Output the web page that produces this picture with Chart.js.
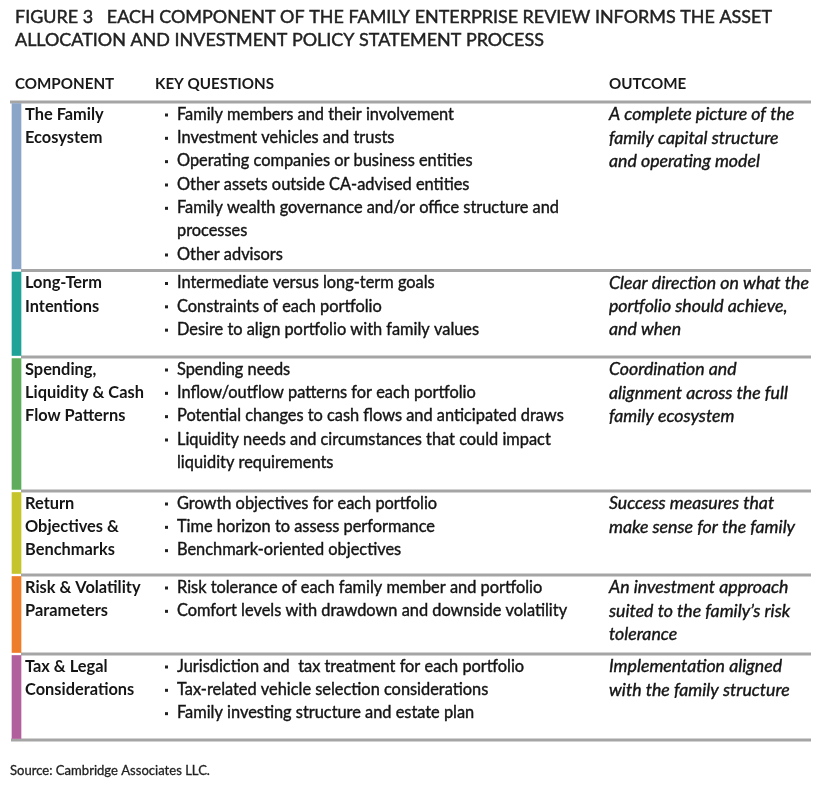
<!DOCTYPE html>
<html>
<head>
<meta charset="utf-8">
<script src="https://cdn.jsdelivr.net/npm/chart.js@4.4.1/dist/chart.umd.min.js"></script>
<style>
  html, body { margin: 0; padding: 0; background: #fff; }
  #wrap { width: 826px; height: 786px; }
</style>
</head>
<body>
<div id="wrap"><canvas id="myChart" width="826" height="786"></canvas></div>
<script>
// ---- content ----
var titleLines = [
	"FIGURE 3   EACH COMPONENT OF THE FAMILY ENTERPRISE REVIEW INFORMS THE ASSET",
	"ALLOCATION AND INVESTMENT POLICY STATEMENT PROCESS"
];
var headers = ["COMPONENT", "KEY QUESTIONS", "OUTCOME"];
var components = [
	["The Family", "Ecosystem"],
	["Long-Term", "Intentions"],
	["Spending,", "Liquidity & Cash", "Flow Patterns"],
	["Return", "Objectives &", "Benchmarks"],
	["Risk & Volatility", "Parameters"],
	["Tax & Legal", "Considerations"]
];
var questions = [
	["Family members and their involvement", "Investment vehicles and trusts", "Operating companies or business entities",
	 "Other assets outside CA-advised entities", ["Family wealth governance and/or office structure and", "processes"], "Other advisors"],
	["Intermediate versus long-term goals", "Constraints of each portfolio", "Desire to align portfolio with family values"],
	["Spending needs", "Inflow/outflow patterns for each portfolio", "Potential changes to cash flows and anticipated draws",
	 ["Liquidity needs and circumstances that could impact", "liquidity requirements"]],
	["Growth objectives for each portfolio", "Time horizon to assess performance", "Benchmark-oriented objectives"],
	["Risk tolerance of each family member and portfolio", "Comfort levels with drawdown and downside volatility"],
	["Jurisdiction and  tax treatment for each portfolio", "Tax-related vehicle selection considerations", "Family investing structure and estate plan"]
];
var outcomes = [
	["A complete picture of the", "family capital structure", "and operating model"],
	["Clear direction on what the", "portfolio should achieve,", "and when"],
	["Coordination and", "alignment across the full", "family ecosystem"],
	["Success measures that", "make sense for the family"],
	["An investment approach", "suited to the family\u2019s risk", "tolerance"],
	["Implementation aligned", "with the family structure"]
];
var rowColors = ["#8aa5c8", "#1fa398", "#5eac5c", "#c6c42c", "#ee7d2b", "#b25f9d"];
var sourceText = "Source: Cambridge Associates LLC.";

// ---- layout (px) ----
var W = 826, H = 786;
var rowEdges = [102, 270.5, 357, 491, 575, 654, 740];
var stripeX = 16.5, stripeW = 9;
var colX = [25, 177, 609];
var headerX = [15, 155, 609];
var lineH = 23.33, firstLine = 12.5;
var FONT = "Lato, 'Open Sans', sans-serif";

var ctxM = document.createElement("canvas").getContext("2d");
function fitSize(text, weight, style, target) {
	ctxM.font = style + " " + weight + " 100px " + FONT;
	return 100 * target / ctxM.measureText(text).width;
}
var fs = {
	title: fitSize(titleLines[0], "normal", "normal", 757),
	header: fitSize("KEY QUESTIONS", "bold", "normal", 119),
	comp: fitSize("Liquidity & Cash", "bold", "normal", 119),
	body: fitSize("Comfort levels with drawdown and downside volatility", "normal", "normal", 390),
	outc: fitSize("alignment across the full", "normal", "italic", 179),
	src: fitSize(sourceText, "normal", "normal", 200)
};

var stripes = components.map(function (c, i) {
	return { x: stripeX, y: [rowEdges[i] + 1.5, rowEdges[i + 1] - 1.5] };
});
var seps = [];
rowEdges.forEach(function (e, i) {
	var x0 = (i === 0) ? 10 : (i === rowEdges.length - 1 ? 11 : 21);
	seps.push({ x: x0, y: e }, { x: 811, y: e }, { x: 811, y: null });
});

var textPlugin = {
	id: "tableText",
	afterDatasetsDraw: function (chart) {
		var c = chart.ctx, sx = chart.scales.x, sy = chart.scales.y;
		// heavy: extra stroke to thicken thin faces
		function put(t, x, y, font, color, heavy) {
			var px = sx.getPixelForValue(x), py = sy.getPixelForValue(y);
			c.font = font;
			c.fillStyle = color;
			c.fillText(t, px, py);
			if (heavy) {
				c.strokeStyle = color;
				c.lineWidth = heavy;
				c.strokeText(t, px, py);
			}
		}
		c.save();
		c.textBaseline = "middle";
		c.textAlign = "left";
		titleLines.forEach(function (t, i) {
			put(t, 15, 17 + i * 23, fs.title.toFixed(2) + "px " + FONT, "#222", 0.45);
		});
		headers.forEach(function (t, i) {
			put(t, headerX[i], 84, "bold " + fs.header.toFixed(2) + "px " + FONT, "#1a1a1a", 0);
		});
		for (var r = 0; r < components.length; r++) {
			var y0 = rowEdges[r] + firstLine;
			components[r].forEach(function (t, i) {
				put(t, colX[0], y0 + i * lineH, "bold " + fs.comp.toFixed(2) + "px " + FONT, "#151515", 0);
			});
			var ln = 0;
			questions[r].forEach(function (q) {
				var parts = Array.isArray(q) ? q : [q];
				c.fillStyle = "#222";
				c.fillRect(sx.getPixelForValue(165), sy.getPixelForValue(y0 + ln * lineH) - 1, 3, 3);
				parts.forEach(function (t) {
					put(t, colX[1], y0 + ln * lineH, fs.body.toFixed(2) + "px " + FONT, "#151515", 0.4);
					ln++;
				});
			});
			outcomes[r].forEach(function (t, i) {
				put(t, colX[2], y0 + i * lineH, "italic " + fs.outc.toFixed(2) + "px " + FONT, "#151515", 0.4);
			});
		}
		put(sourceText, 10, 771, fs.src.toFixed(2) + "px " + FONT, "#222", 0.3);
		c.restore();
	}
};

var ctx = document.getElementById("myChart");
var myChart = new Chart(ctx, {
	type: 'bar',
	data: {
		datasets: [
			{
				type: 'bar',
				data: stripes,
				backgroundColor: rowColors,
				barThickness: stripeW,
				borderWidth: 0
			},
			{
				type: 'line',
				data: seps,
				borderColor: "#a5a5a5",
				borderWidth: 3,
				borderCapStyle: 'butt',
				pointRadius: 0,
				spanGaps: false,
				fill: false
			}
		]
	},
	options: {
		responsive: false,
		animation: false,
		maintainAspectRatio: false,
		layout: { padding: 0 },
		plugins: { legend: false, tooltip: { enabled: false } },
		scales: {
			x: { type: 'linear', min: 0, max: W, offset: false, display: false },
			y: { type: 'linear', min: 0, max: H, reverse: true, offset: false, display: false }
		}
	},
	plugins: [textPlugin]
});
</script>
</body>
</html>
